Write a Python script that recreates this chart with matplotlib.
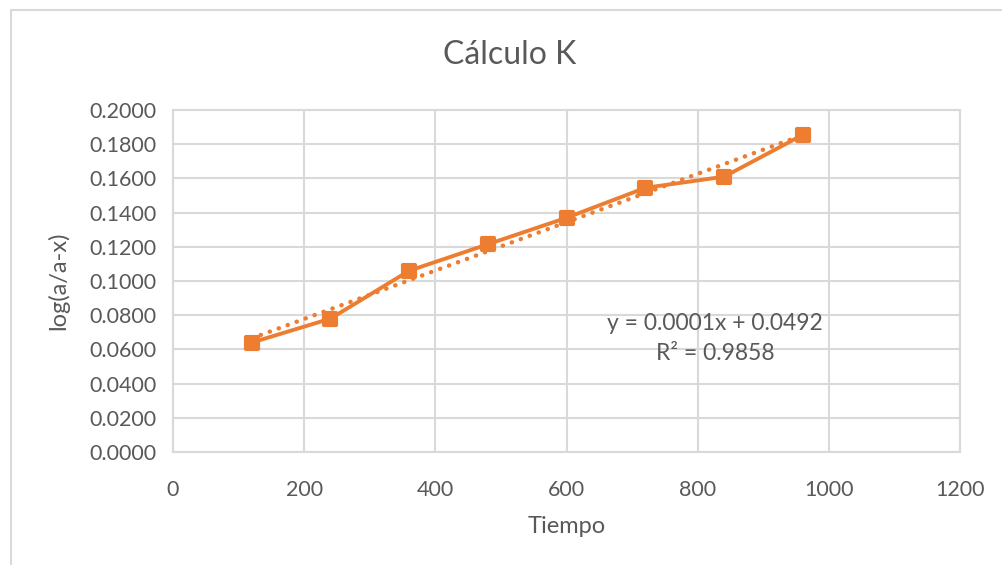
import matplotlib
matplotlib.use("Agg")
import matplotlib.pyplot as plt
import numpy as np
from matplotlib.patches import Rectangle
from matplotlib.markers import MarkerStyle

plt.rcParams['font.family'] = ['Lato', 'DejaVu Sans']

tiempo = [120, 240, 360, 480, 600, 720, 840, 960]
log_val = [0.0640, 0.0780, 0.1060, 0.1215, 0.1370, 0.1545, 0.1610, 0.1855]

orange = '#ED7D31'
gray_txt = '#595959'
grid_c = '#D9D9D9'

fig = plt.figure(figsize=(10.03, 5.65), dpi=100)
ax = fig.add_axes([0.1725, 0.2, 0.785, 0.6053])

# outer chart border
fig.patches.append(Rectangle((11/1003, -0.1), 1.2, 1.1 - 10/565, transform=fig.transFigure,
                             fill=False, edgecolor=grid_c, linewidth=1.5))

# linear trendline
m, b = np.polyfit(tiempo, log_val, 1)
xs = np.array([tiempo[0], tiempo[-1]])
ax.plot(xs, m * xs + b, linestyle=(0, (0.05, 2.1)), color=orange, linewidth=3.2,
        dash_capstyle='round', zorder=3)

mk = MarkerStyle('s', joinstyle='round')
ax.plot(tiempo, log_val, '-', color=orange, linewidth=2.8, marker=mk, markersize=8.5,
        markeredgecolor=orange, markeredgewidth=3, solid_joinstyle='round', zorder=4)

ax.set_xlim(0, 1200)
ax.set_ylim(0, 0.2)
ax.set_xticks(np.arange(0, 1201, 200))
ax.set_yticks(np.arange(0, 0.2001, 0.02))
ax.set_yticklabels([f'{v:.4f}' for v in np.arange(0, 0.2001, 0.02)])
ax.grid(True, color=grid_c, linewidth=1.5)
ax.set_axisbelow(True)
for s in ax.spines.values():
    s.set_color(grid_c)
    s.set_linewidth(1.5)
ax.tick_params(length=0, labelsize=15.5, colors=gray_txt)
ax.tick_params(axis='y', pad=12)
ax.tick_params(axis='x', pad=20)

ax.set_xlabel('Tiempo', fontsize=17, color=gray_txt, labelpad=12)
ax.set_ylabel('log(a/a-x)', fontsize=17, color=gray_txt, labelpad=14)
fig.text(0.508, 1 - 55/565, 'Cálculo K', ha='center', va='center', fontsize=23, color=gray_txt)

ax.text(826, 0.0754, 'y = 0.0001x + 0.0492', ha='center', va='center', fontsize=16.5, color=gray_txt)
ax.text(826, 0.0578, 'R² = 0.9858', ha='center', va='center', fontsize=16.5, color=gray_txt)

plt.savefig('out.png', dpi=100)
